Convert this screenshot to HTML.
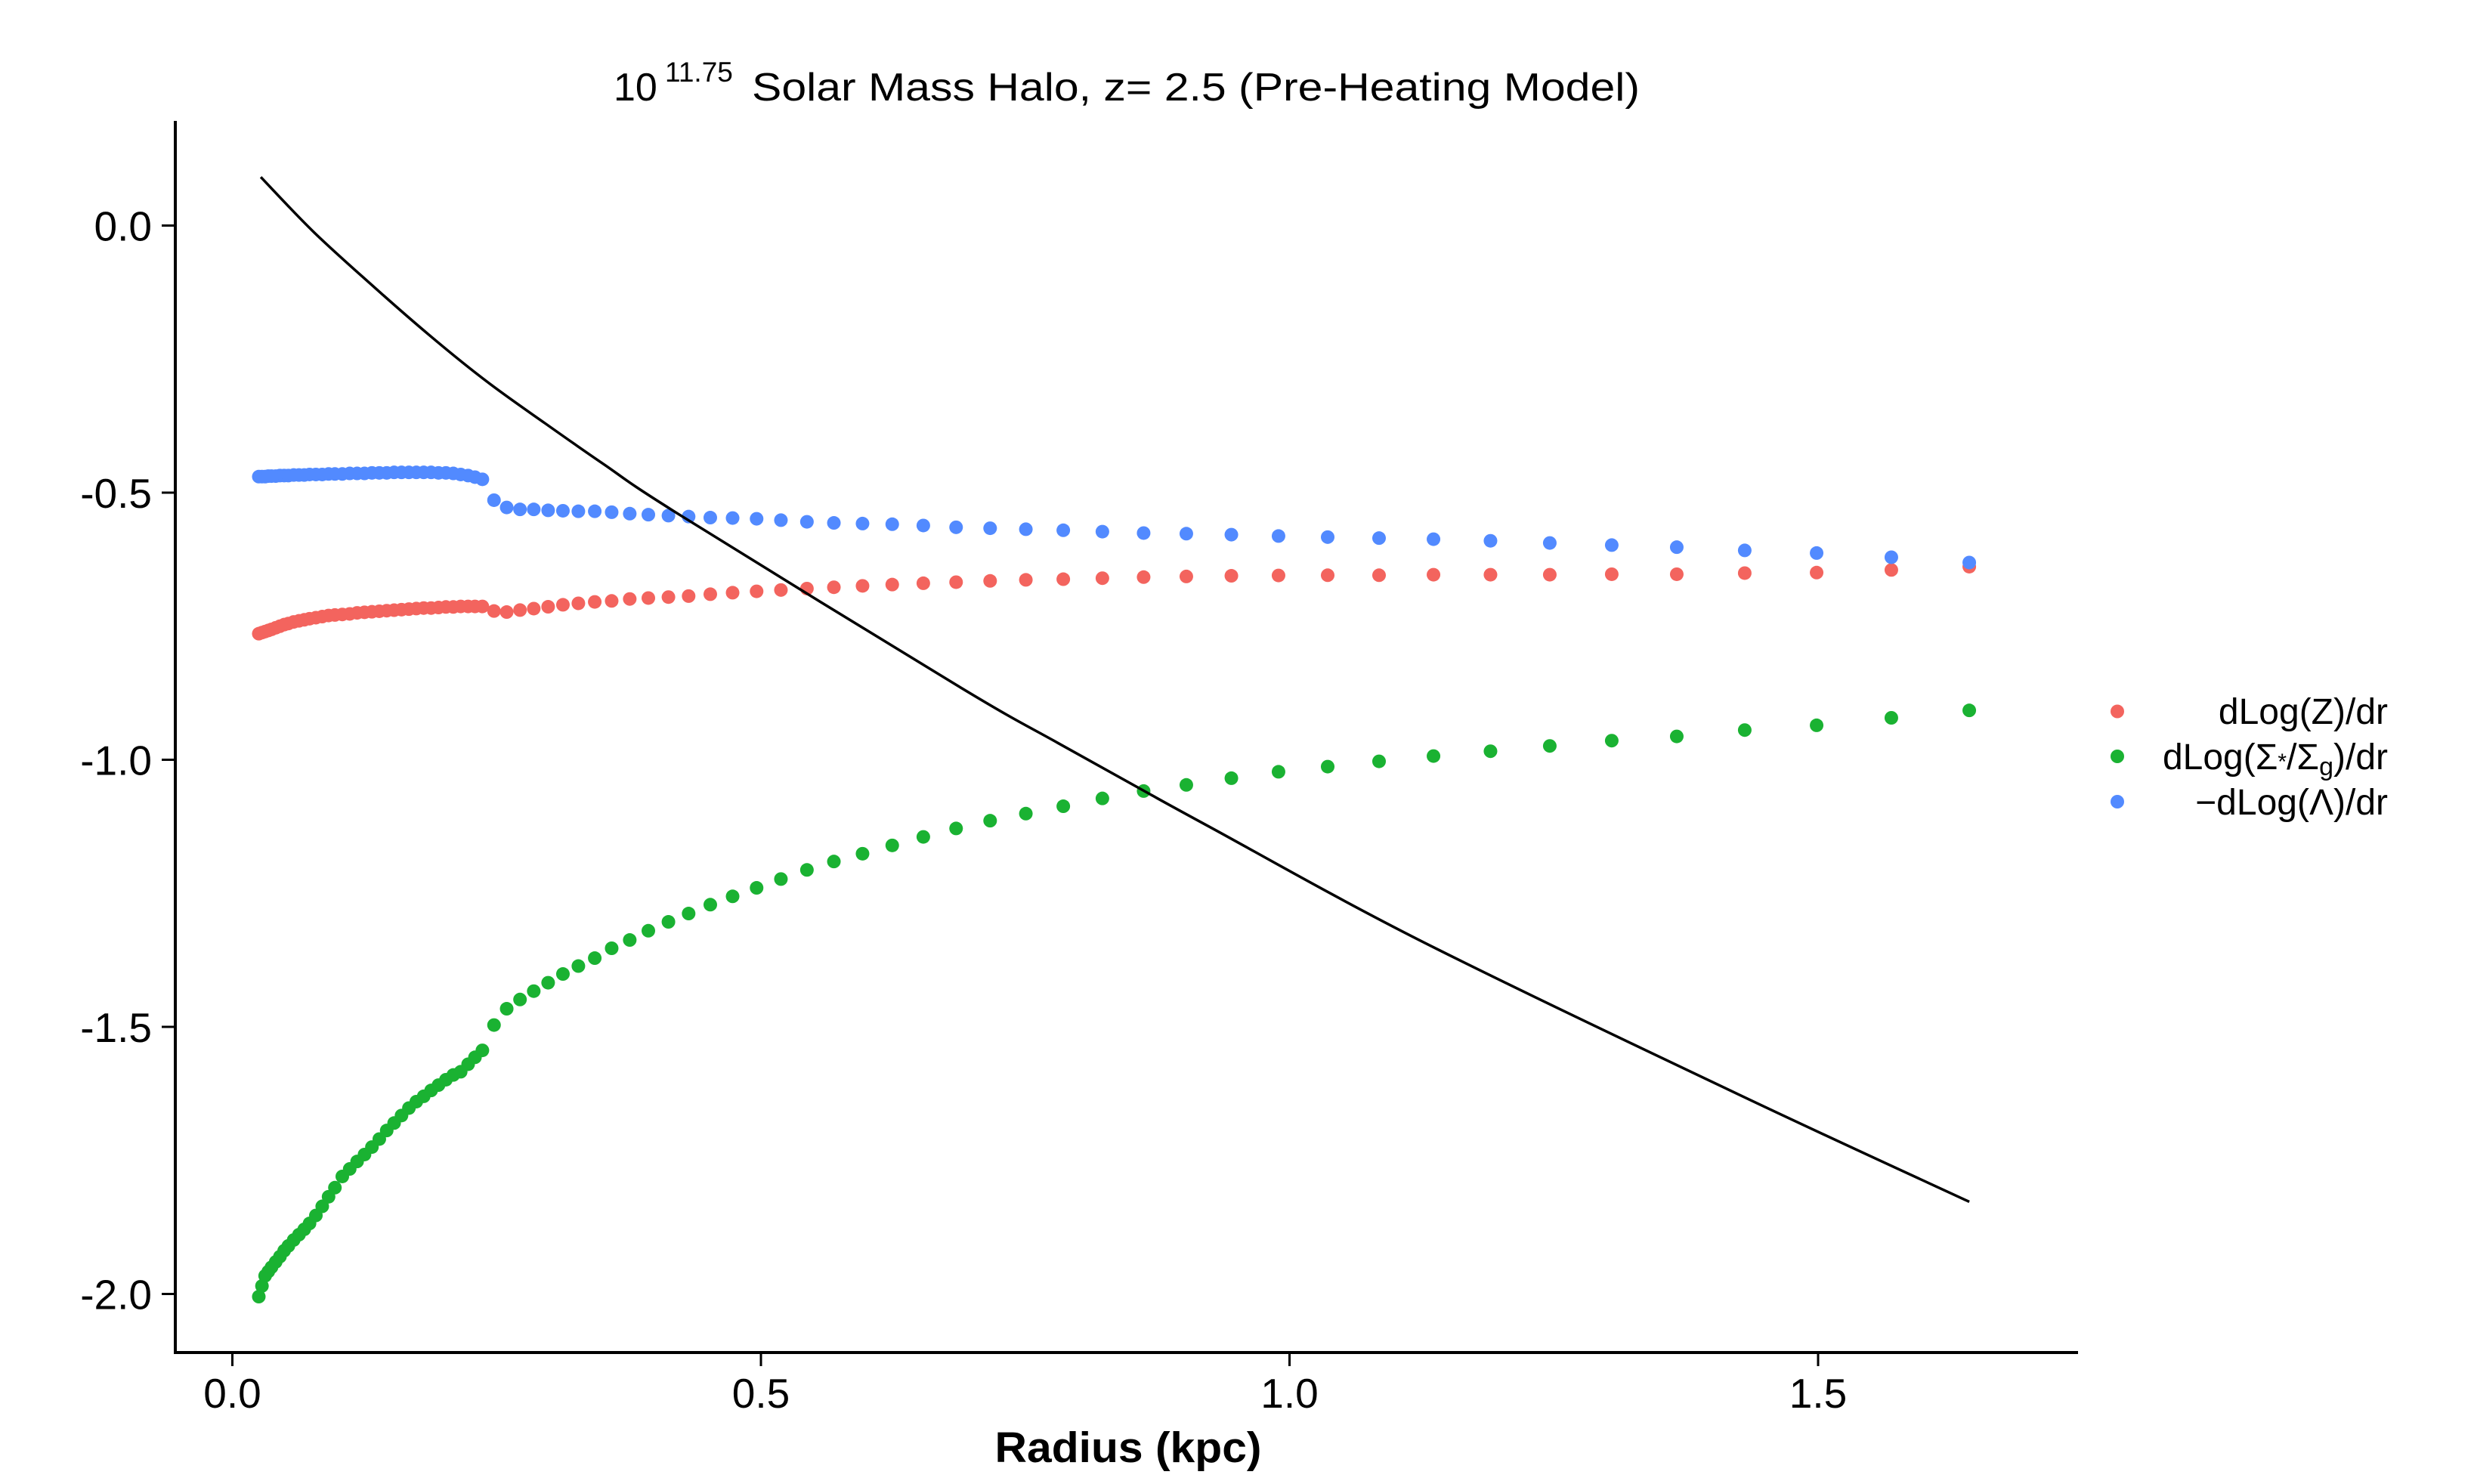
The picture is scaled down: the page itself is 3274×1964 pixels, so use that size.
<!DOCTYPE html>
<html><head><meta charset="utf-8"><style>
html,body{margin:0;padding:0;background:#fff;}
svg{display:block;font-family:"Liberation Sans",sans-serif;}
</style></head><body>
<svg id="chart" width="3274" height="1964" viewBox="0 0 3274 1964" xmlns="http://www.w3.org/2000/svg">
<rect width="3274" height="1964" fill="#fff"/>
<text font-size="52" fill="#000"><tspan x="812" y="133">10</tspan><tspan x="880" y="108" font-size="37">11.75</tspan><tspan x="995" y="133" textLength="1175" lengthAdjust="spacingAndGlyphs">Solar Mass Halo, z= 2.5 (Pre-Heating Model)</tspan></text>
<g id="axes"></g>
<g id="points"></g>
<g id="curve"></g>
<text x="1493" y="1935" font-size="57" font-weight="bold" text-anchor="middle" textLength="353" lengthAdjust="spacingAndGlyphs">Radius (kpc)</text>
<g id="legend">
 <g>
  <circle cx="2802" cy="941.5" r="9" fill="#F3645E"/>
  <text x="3160" y="958" font-size="48" text-anchor="end">dLog(Z)/dr</text>
 </g>
 <g>
  <circle cx="2802" cy="1001" r="9" fill="#1AB232"/>
  <text x="3160" y="1018" font-size="48" text-anchor="end">dLog(Σ<tspan font-size="30">*</tspan>/Σ<tspan font-size="34" dy="8">g</tspan><tspan dy="-8">)/dr</tspan></text>
 </g>
 <g>
  <circle cx="2802" cy="1061" r="9" fill="#528AFF"/>
  <text x="3160" y="1078" font-size="48" text-anchor="end">−dLog(Λ)/dr</text>
 </g>
</g>
</svg>
<script>
const radius = [0.025,0.028,0.031,0.034,0.037,0.041,0.045,0.049,0.053,0.058,0.063,0.068,0.073,0.079,0.085,0.091,0.097,0.104,0.111,0.118,0.125,0.132,0.139,0.146,0.153,0.160,0.167,0.174,0.181,0.188,0.195,0.202,0.209,0.216,0.223,0.2295,0.2365,
0.2475,0.2595,0.2721,0.2851,0.2987,0.3127,0.3273,0.3428,0.3588,0.3759,0.3935,0.4125,0.4316,0.4521,0.4732,0.4959,0.5189,0.5435,0.5690,0.5961,0.6242,0.6536,0.6846,0.7168,0.7506,0.7860,0.8230,0.8620,0.9024,0.9450,0.9896,1.0361,1.0847,1.1362,1.1901,1.2462,1.3048,1.3663,1.4306,1.4986,1.5693,1.6430];
const dlogZ = [-0.764,-0.762,-0.760,-0.758,-0.756,-0.753,-0.750,-0.747,-0.745,-0.742,-0.740,-0.738,-0.736,-0.734,-0.732,-0.730,-0.729,-0.728,-0.727,-0.725,-0.724,-0.723,-0.722,-0.721,-0.720,-0.719,-0.718,-0.717,-0.716,-0.716,-0.715,-0.714,-0.714,-0.713,-0.713,-0.713,-0.713,
-0.7216,-0.7235,-0.7198,-0.7171,-0.7136,-0.7099,-0.7072,-0.7045,-0.7027,-0.6990,-0.6973,-0.6955,-0.6936,-0.6901,-0.6873,-0.6847,-0.6822,-0.6796,-0.6771,-0.6745,-0.6721,-0.6696,-0.6676,-0.6652,-0.6632,-0.6620,-0.6601,-0.6581,-0.6569,-0.6556,-0.6550,-0.6546,-0.6546,-0.6536,-0.6536,-0.6536,-0.6527,-0.6527,-0.6506,-0.6496,-0.6447,-0.6386];
const dlogSigma = [-2.005,-1.985,-1.966,-1.958,-1.950,-1.940,-1.930,-1.919,-1.910,-1.899,-1.889,-1.879,-1.868,-1.853,-1.836,-1.818,-1.801,-1.780,-1.766,-1.752,-1.739,-1.725,-1.710,-1.694,-1.680,-1.666,-1.652,-1.640,-1.630,-1.619,-1.609,-1.599,-1.590,-1.584,-1.570,-1.557,-1.544,
-1.4966,-1.4661,-1.4488,-1.4331,-1.4174,-1.4010,-1.3862,-1.3713,-1.3529,-1.3374,-1.3201,-1.3034,-1.2879,-1.2713,-1.2557,-1.2398,-1.2233,-1.2062,-1.1905,-1.1759,-1.1603,-1.1444,-1.1286,-1.1141,-1.1008,-1.0870,-1.0724,-1.0586,-1.0471,-1.0345,-1.0225,-1.0129,-1.0030,-0.9931,-0.9840,-0.9741,-0.9642,-0.9563,-0.9444,-0.9355,-0.9215,-0.9076];
const dlogLambda = [-0.470,-0.470,-0.470,-0.469,-0.469,-0.469,-0.468,-0.468,-0.468,-0.467,-0.467,-0.467,-0.466,-0.466,-0.466,-0.465,-0.465,-0.465,-0.464,-0.464,-0.464,-0.463,-0.463,-0.463,-0.462,-0.462,-0.462,-0.462,-0.462,-0.462,-0.463,-0.463,-0.464,-0.466,-0.468,-0.471,-0.475,
-0.5141,-0.5277,-0.5313,-0.5313,-0.5331,-0.5339,-0.5349,-0.5349,-0.5366,-0.5393,-0.5412,-0.5430,-0.5448,-0.5467,-0.5475,-0.5489,-0.5515,-0.5546,-0.5566,-0.5579,-0.5591,-0.5615,-0.5648,-0.5666,-0.5685,-0.5704,-0.5730,-0.5756,-0.5768,-0.5786,-0.5812,-0.5832,-0.5851,-0.5871,-0.5901,-0.5942,-0.5982,-0.6021,-0.6081,-0.6130,-0.6209,-0.6308];
const curveX = [0.0269,0.0767,0.1315,0.1861,0.2408,0.2956,0.3502,0.4235,0.6865,0.7809,0.8620,0.9239,1.1245,1.4253,1.6430];
const curveY = [0.0908,-0.0116,-0.1106,-0.2048,-0.2921,-0.3699,-0.4453,-0.5420,-0.8620,-0.9686,-1.0579,-1.1250,-1.3393,-1.6270,-1.8275];
const xTicks = [0.0,0.5,1.0,1.5];
const xTickLabels = ["0.0","0.5","1.0","1.5"];
const yTicks = [0.0,-0.5,-1.0,-1.5,-2.0];
const yTickLabels = ["0.0","-0.5","-1.0","-1.5","-2.0"];

const NS = "http://www.w3.org/2000/svg";
const X0 = 232, X1 = 2750, Y0 = 160, Y1 = 1790;
function sx(v){ return 307.5 + 1399*v; }
function sy(v){ return 298.5 - 707*v; }
function mk(tag, attrs, parent){
  const e = document.createElementNS(NS, tag);
  for (const k in attrs) e.setAttribute(k, attrs[k]);
  parent.appendChild(e); return e;
}
const axes = document.getElementById('axes');
const yl = mk('line',{x1:X0,y1:Y0,x2:X0,y2:Y1+2,stroke:'#000','stroke-width':4},axes);


const xl = mk('line',{x1:X0-2,y1:Y1,x2:X1,y2:Y1,stroke:'#000','stroke-width':4},axes);


xTicks.forEach((t,i)=>{
  const tk = mk('line',{x1:sx(t),y1:Y1,x2:sx(t),y2:Y1+18,stroke:'#000','stroke-width':3},axes);
  
  
  const tl = mk('text',{x:sx(t),y:1863,'font-size':55,'text-anchor':'middle',fill:'#000'},axes);
  tl.textContent = xTickLabels[i];
  
  
});
yTicks.forEach((t,i)=>{
  const tk = mk('line',{x1:X0-18,y1:sy(t),x2:X0,y2:sy(t),stroke:'#000','stroke-width':3},axes);
  
  
  const tl = mk('text',{x:201,y:sy(t)+20,'font-size':55,'text-anchor':'end',fill:'#000'},axes);
  tl.textContent = yTickLabels[i];
  
  
});
const pts = document.getElementById('points');
const series = [[dlogZ,'#F3645E','point-dlog-z'],[dlogSigma,'#1AB232','point-dlog-sigma'],[dlogLambda,'#528AFF','point-dlog-lambda']];
series.forEach(s=>{
  s[0].forEach((v,i)=>{
    const c = mk('circle',{cx:sx(radius[i]),cy:sy(v),r:9,fill:s[1]},pts);
    
    
  });
});
const cg = document.getElementById('curve');
const P = curveX.map((v,i)=>[sx(v), sy(curveY[i])]);
let d = 'M' + P[0][0].toFixed(1) + ',' + P[0][1].toFixed(1);
for (let i=0;i<P.length-1;i++){
  const p0 = P[Math.max(i-1,0)], p1 = P[i], p2 = P[i+1], p3 = P[Math.min(i+2,P.length-1)];
  const c1 = [p1[0]+(p2[0]-p0[0])/6, p1[1]+(p2[1]-p0[1])/6];
  const c2 = [p2[0]-(p3[0]-p1[0])/6, p2[1]-(p3[1]-p1[1])/6];
  d += 'C' + c1[0].toFixed(1)+','+c1[1].toFixed(1)+' '+c2[0].toFixed(1)+','+c2[1].toFixed(1)+' '+p2[0].toFixed(1)+','+p2[1].toFixed(1);
}
const path = mk('path',{d:d,fill:'none',stroke:'#000','stroke-width':3.5,'stroke-linejoin':'round'},cg);


</script>
</body></html>
